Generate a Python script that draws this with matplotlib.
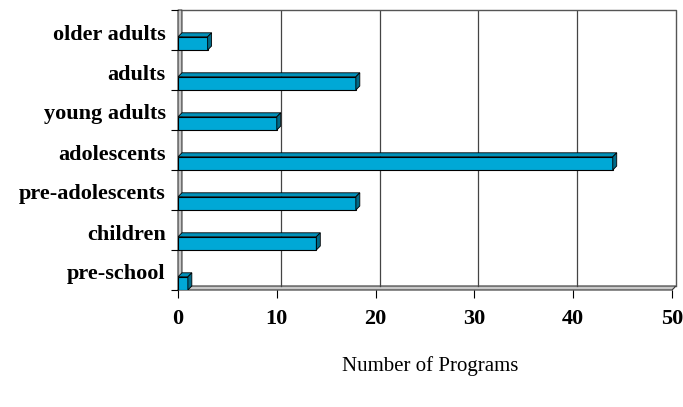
import numpy as np
import matplotlib.pyplot as plt
from matplotlib.patches import Polygon

# data, bottom to top
categories = ['pre-school', 'children', 'pre-adolescents', 'adolescents',
              'young adults', 'adults', 'older adults']
programs = [1, 14, 18, 44, 10, 18, 3]
xticks = [0, 10, 20, 30, 40, 50]

face = '#00a8d6'
top = '#0090b8'
side = '#006a88'
dx, dy = 0.4, 0.1  # fake 3d depth, data units
bar_h = 0.33

fig = plt.figure(figsize=(6.83, 4.07), dpi=100)
ax = fig.add_axes([178/683, 1 - 290/407, 499/683, 280/407])
ax.set_xlim(0, 50.5)
ax.set_ylim(0, 7)
for s in ax.spines.values():
    s.set_visible(False)

n = len(categories)
# back wall, left wall, floor
ax.add_patch(Polygon([(0, 0), (dx, dy), (dx, n), (0, n)],
                     closed=True, fc='#c8c8c8', ec='#333333', lw=0.8, clip_on=False))
ax.add_patch(Polygon([(0, 0), (50, 0), (50 + dx, dy), (dx, dy)],
                     closed=True, fc='#c8c8c8', ec='#333333', lw=0.8, clip_on=False))
ax.plot([dx, 50 + dx, 50 + dx], [n, n, dy], color='#555555', lw=1.0, clip_on=False)
for xv in xticks[1:-1]:
    ax.plot([xv + dx, xv + dx], [dy, n], color='#444444', lw=0.9, zorder=1)

# bars
y = np.arange(n)
ax.barh(y, programs, height=bar_h, align='edge', color=face,
        edgecolor='black', linewidth=0.8, zorder=3)
for yi, v in zip(y, programs):
    ax.add_patch(Polygon([(0, yi + bar_h), (v, yi + bar_h), (v + dx, yi + bar_h + dy),
                          (dx, yi + bar_h + dy)], closed=True, fc=top, ec='black',
                         lw=0.6, zorder=3))
    ax.add_patch(Polygon([(v, yi), (v + dx, yi + dy), (v + dx, yi + bar_h + dy),
                          (v, yi + bar_h)], closed=True, fc=side, ec='black',
                         lw=0.6, zorder=3))

# axes ticks
ax.set_xticks(xticks)
ax.set_xticklabels([str(t) for t in xticks], fontsize=16, fontweight='bold',
                   family='Liberation Serif')
ax.tick_params(axis='x', direction='out', length=6, width=0.8, pad=8)
ax.set_yticks(np.arange(n + 1))
ax.set_yticklabels([])
ax.set_yticks(y + 0.45, minor=True)
ax.set_yticklabels(categories, minor=True, fontsize=16, fontweight='bold',
                   family='Liberation Serif')
ax.tick_params(axis='y', which='major', direction='out', length=5, width=0.8)
ax.tick_params(axis='y', which='minor', length=0, pad=9)

fig.text(430/683, 1 - 366/407, 'Number of Programs', ha='center', va='center',
         fontsize=15, family='Liberation Serif')

fig.savefig('out.png', dpi=100, facecolor='white')
